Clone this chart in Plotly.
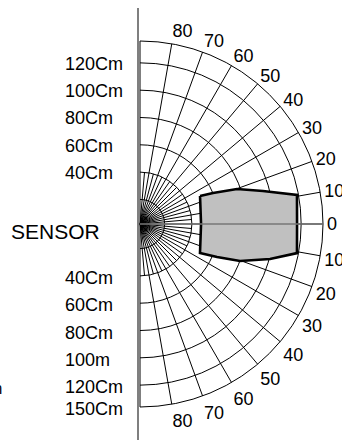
import plotly.graph_objects as go

# ---------------- data ----------------
angle_ticks = [-80, -70, -60, -50, -40, -30, -20, -10, 0, 10, 20, 30, 40, 50, 60, 70, 80]
angle_text = [str(abs(a)) for a in angle_ticks]
ring_cm = [20, 40, 60, 80, 100, 120]
radial_range = [2, 136]

fan_angles = [-85, -75, -65, -55, -45, -35, -25, -15, -5, 5, 15, 25, 35, 45, 55, 65, 75, 85]
fan_reach_cm = 40

# detection zone outline (r in cm, theta in degrees)
zone_r = [50.5, 60.1, 77.5, 95.2, 118.9, 117.0, 118.9, 100.6, 80.1, 63.4, 50.8, 46.7, 50.5]
zone_theta = [25.0, 23.0, 19.8, 15.0, 10.5, 0.0, -10.5, -15.1, -20.3, -23.2, -25.8, 0.0, 25.0]

top_labels = ["120Cm", "100Cm", "80Cm", "60Cm", "40Cm"]
top_label_cm = [120, 100, 80, 60, 40]
bottom_labels = ["40Cm", "60Cm", "80Cm", "100m", "120Cm", "150Cm"]
bottom_label_cm = [40, 60, 80, 100, 120, 136]
sensor_label = "SENSOR"

# ---------------- layout geometry ----------------
W, H = 342, 440
cx, cy, R = 140, 224, 183
FONT = "Liberation Sans, Arial, sans-serif"
scale = R / (radial_range[1] - radial_range[0])


def ring_y(cm, sign):
    return cy + sign * (cm - radial_range[0]) * scale


fig = go.Figure()

# short fan lines near the sensor
fr, ft = [], []
for a in fan_angles:
    fr += [radial_range[0], fan_reach_cm, None]
    ft += [a, a, None]
fig.add_trace(go.Scatterpolar(r=fr, theta=ft, mode="lines",
                              line=dict(color="black", width=1), hoverinfo="skip"))

# detection zone
fig.add_trace(go.Scatterpolar(r=zone_r, theta=zone_theta, mode="lines", fill="toself",
                              fillcolor="#c0c0c0", line=dict(color="black", width=2.6),
                              hoverinfo="skip"))

annotations = []
for t, v in zip(top_labels, top_label_cm):
    annotations.append(dict(text=t, x=63 / W, y=1 - (ring_y(v, -1) + 1) / H, xref="paper", yref="paper",
                            xanchor="left", yanchor="middle", showarrow=False,
                            font=dict(size=18, color="black", family=FONT)))
for t, v in zip(bottom_labels, bottom_label_cm):
    annotations.append(dict(text=t, x=63 / W, y=1 - (ring_y(v, 1) + 2) / H, xref="paper", yref="paper",
                            xanchor="left", yanchor="middle", showarrow=False,
                            font=dict(size=18, color="black", family=FONT)))
annotations.append(dict(text=sensor_label, x=9 / W, y=1 - 231 / H, xref="paper", yref="paper",
                        xanchor="left", yanchor="middle", showarrow=False,
                        font=dict(size=21, color="black", family=FONT)))
annotations.append(dict(text="m", x=4 / W, y=1 - 388 / H, xref="paper", yref="paper",
                        xanchor="right", yanchor="middle", showarrow=False,
                        font=dict(size=16, color="black", family=FONT)))

fig.update_layout(
    width=W, height=H, margin=dict(l=0, r=0, t=0, b=0),
    paper_bgcolor="white", plot_bgcolor="white", showlegend=False,
    font=dict(family=FONT, size=18, color="black"),
    polar=dict(
        domain=dict(x=[cx / W, (cx + R) / W], y=[1 - (cy + R) / H, 1 - (cy - R) / H]),
        sector=[-90, 90], bgcolor="white",
        angularaxis=dict(rotation=0, direction="counterclockwise", tickvals=angle_ticks,
                         ticktext=angle_text, ticks="", showgrid=True, gridcolor="black",
                         gridwidth=1, showline=True, linecolor="black", linewidth=1,
                         tickfont=dict(size=18, family=FONT, color="black")),
        radialaxis=dict(range=radial_range, tickvals=ring_cm, showticklabels=False, ticks="",
                        showgrid=True, gridcolor="black", gridwidth=1, showline=True,
                        linecolor="#777777", linewidth=1.5, angle=0),
    ),
    shapes=[dict(type="line", xref="paper", yref="paper", x0=138 / W, x1=138 / W,
                 y0=0, y1=1 - 8 / H, line=dict(color="#555555", width=1.5))],
    annotations=annotations,
)

fig.write_html("out.html", config={"displayModeBar": False},
               post_script="document.body.style.margin='0';document.body.style.overflow='hidden';")
